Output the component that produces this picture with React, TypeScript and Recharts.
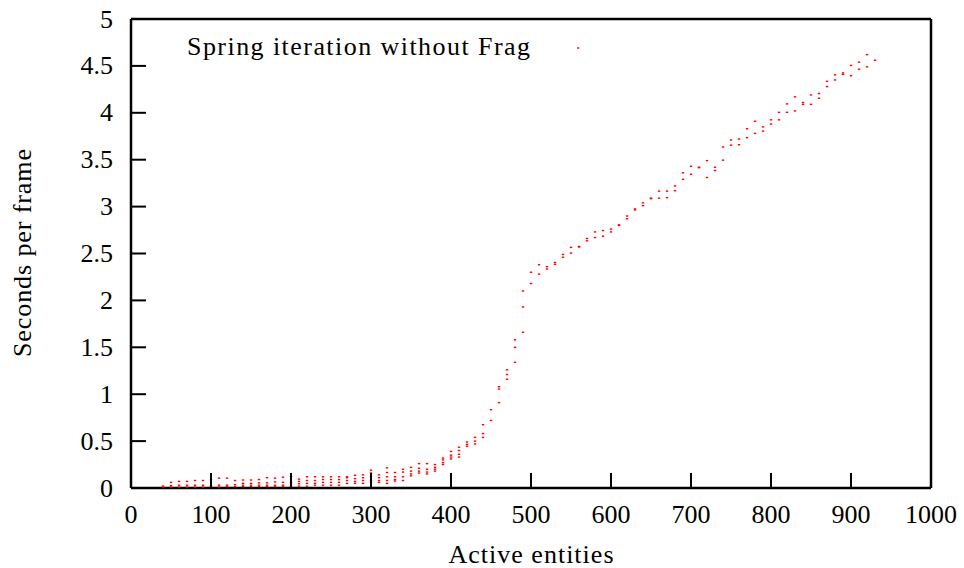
import { ScatterChart, Scatter, XAxis, YAxis } from "recharts";

// active entities (x) and the seconds-per-frame samples measured at each
const ENTITIES = [
  40, 50, 60, 70, 80, 90, 100, 110, 120, 130, 140, 150, 160, 170, 180, 190,
  200, 210, 220, 230, 240, 250, 260, 270, 280, 290, 300, 310, 320, 330, 340, 350,
  360, 370, 380, 390, 400, 410, 420, 430, 440, 450, 460, 470, 480, 490, 500, 510,
  520, 530, 540, 550, 560, 570, 580, 590, 600, 610, 620, 630, 640, 650, 660, 670,
  680, 690, 700, 710, 720, 730, 740, 750, 760, 770, 780, 790, 800, 810, 820, 830,
  840, 850, 860, 870, 880, 890, 900, 910, 920, 930,
];

const SAMPLES: number[][] = [
  [0.01, 0.02], [0.06, 0.025, 0.01], [0.07, 0.03, 0.01], [0.07, 0.03, 0.01],
  [0.08, 0.03, 0.01], [0.08, 0.03, 0.01], [0.09, 0.025, 0.01], [0.105, 0.03, 0.01],
  [0.105, 0.03, 0.015], [0.08, 0.035, 0.015], [0.085, 0.05, 0.03, 0.015], [0.085, 0.05, 0.03, 0.015],
  [0.09, 0.055, 0.03, 0.015], [0.11, 0.055, 0.03, 0.015], [0.105, 0.065, 0.03, 0.015], [0.115, 0.06, 0.03, 0.015],
  [0.12, 0.06, 0.04, 0.02], [0.095, 0.07, 0.045, 0.02], [0.12, 0.08, 0.05, 0.02], [0.12, 0.08, 0.05, 0.03],
  [0.12, 0.09, 0.06, 0.03], [0.12, 0.09, 0.06, 0.03], [0.12, 0.09, 0.06, 0.03], [0.12, 0.11, 0.08, 0.05],
  [0.135, 0.1, 0.07, 0.05], [0.14, 0.11, 0.08, 0.05], [0.19, 0.16, 0.12, 0.08, 0.06], [0.14, 0.11, 0.08, 0.06],
  [0.215, 0.165, 0.12, 0.08, 0.05], [0.165, 0.12, 0.09, 0.075], [0.2, 0.17, 0.12, 0.08], [0.22, 0.18, 0.15, 0.13],
  [0.26, 0.21, 0.18, 0.16], [0.26, 0.2, 0.17, 0.15], [0.25, 0.22, 0.2, 0.18], [0.32, 0.3, 0.27, 0.25],
  [0.39, 0.35, 0.33, 0.31], [0.435, 0.4, 0.36, 0.33], [0.49, 0.465, 0.445], [0.54, 0.5, 0.47],
  [0.675, 0.58, 0.54], [0.835, 0.72], [1.08, 1.055, 0.91], [1.26, 1.21, 1.16],
  [1.58, 1.5, 1.34], [2.1, 1.93, 1.66], [2.3, 2.18], [2.38, 2.28],
  [2.36, 2.335], [2.405, 2.385], [2.49, 2.46], [2.565, 2.505],
  [2.575, 2.57], [2.66, 2.635], [2.73, 2.67], [2.745, 2.685],
  [2.76, 2.73], [2.805, 2.8], [2.9, 2.87], [2.975, 2.965],
  [3.04, 3.01], [3.09, 3.085], [3.165, 3.09], [3.165, 3.095],
  [3.22, 3.17], [3.36, 3.29], [3.43, 3.345], [3.42, 3.415],
  [3.49, 3.31], [3.42, 3.385], [3.635, 3.495], [3.71, 3.655],
  [3.72, 3.66], [3.83, 3.735], [3.91, 3.78], [3.85, 3.805],
  [3.925, 3.88], [4.005, 3.925], [4.095, 4.005], [4.17, 4.02],
  [4.11, 4.09], [4.19, 4.09], [4.205, 4.155], [4.335, 4.28],
  [4.405, 4.35], [4.425, 4.41], [4.505, 4.395], [4.54, 4.465],
  [4.62, 4.49], [4.56],
];

const X_TICKS = [0, 100, 200, 300, 400, 500, 600, 700, 800, 900, 1000];
const Y_TICKS = [0, 0.5, 1, 1.5, 2, 2.5, 3, 3.5, 4, 4.5, 5];

const points = ENTITIES.flatMap((e, i) => SAMPLES[i].map((v) => ({ e, v })));

const W = 964;
const H = 568;
const LEFT = 131;
const RIGHT = 931;
const TOP = 19;
const BOTTOM = 488;
const TICK = 15;
const FONT = "'Liberation Serif', 'Times New Roman', serif";

const Dot = (props: any) => (
  <rect x={props.cx - 1.2} y={props.cy - 0.7} width={2.4} height={1.4} fill="#ff0000" />
);

const BottomTick = ({ x, payload }: any) => (
  <g>
    <line x1={x} y1={BOTTOM} x2={x} y2={BOTTOM - TICK} stroke="#000" strokeWidth={2} />
    <text x={x} y={523} textAnchor="middle" fontSize={26} fontFamily={FONT} fill="#000">
      {payload.value}
    </text>
  </g>
);

const TopTick = ({ x }: any) => (
  <line x1={x} y1={TOP} x2={x} y2={TOP + TICK} stroke="#000" strokeWidth={2} />
);

const LeftTick = ({ y, payload }: any) => (
  <g>
    <line x1={LEFT} y1={y} x2={LEFT + TICK} y2={y} stroke="#000" strokeWidth={2} />
    <text x={113} y={y + 8.5} textAnchor="end" fontSize={26} fontFamily={FONT} fill="#000">
      {payload.value}
    </text>
  </g>
);

const RightTick = ({ y }: any) => (
  <line x1={RIGHT} y1={y} x2={RIGHT - TICK} y2={y} stroke="#000" strokeWidth={2} />
);

const axisLine = { stroke: "#000", strokeWidth: 2.5 };

// axis band sizes, the margins make up the rest so the frame lands on LEFT/RIGHT/TOP/BOTTOM
const LW = 40;
const RW = 10;
const TH = 10;
const BH = 30;

export default function App() {
  return (
    <div style={{ position: "absolute", left: 0, top: 0, width: W, height: H, background: "#fff" }}>
      <ScatterChart
        width={W}
        height={H}
        margin={{ top: TOP - TH, right: W - RIGHT - RW, bottom: H - BOTTOM - BH, left: LEFT - LW }}
      >
        <XAxis
          xAxisId="b"
          dataKey="e"
          type="number"
          domain={[0, 1000]}
          ticks={X_TICKS}
          interval={0}
          height={BH}
          tickLine={false}
          axisLine={axisLine}
          tick={<BottomTick />}
        />
        <XAxis
          xAxisId="t"
          orientation="top"
          dataKey="e"
          type="number"
          domain={[0, 1000]}
          ticks={X_TICKS}
          interval={0}
          height={TH}
          tickLine={false}
          axisLine={axisLine}
          tick={<TopTick />}
        />
        <YAxis
          yAxisId="l"
          dataKey="v"
          type="number"
          domain={[0, 5]}
          ticks={Y_TICKS}
          interval={0}
          width={LW}
          tickLine={false}
          axisLine={axisLine}
          tick={<LeftTick />}
        />
        <YAxis
          yAxisId="r"
          orientation="right"
          dataKey="v"
          type="number"
          domain={[0, 5]}
          ticks={Y_TICKS}
          interval={0}
          width={RW}
          tickLine={false}
          axisLine={axisLine}
          tick={<RightTick />}
        />
        <Scatter
          data={points}
          xAxisId="b"
          yAxisId="l"
          shape={<Dot />}
          isAnimationActive={false}
        />
        {/* legend, gnuplot style inside the frame */}
        <text x={530} y={55} textAnchor="end" fontSize={26} fontFamily={FONT} fill="#000"
          textLength={343} lengthAdjust="spacing">
          Spring iteration without Frag
        </text>
        <rect x={577} y={47.3} width={2.4} height={1.4} fill="#ff0000" />
        {/* axis titles */}
        <text x={531} y={563} textAnchor="middle" fontSize={26} fontFamily={FONT} fill="#000"
          textLength={165} lengthAdjust="spacing">
          Active entities
        </text>
        <text x={31} y={253} textAnchor="middle" fontSize={26} fontFamily={FONT} fill="#000"
          transform="rotate(-90, 31, 253)" textLength={208} lengthAdjust="spacing">
          Seconds per frame
        </text>
      </ScatterChart>
    </div>
  );
}
